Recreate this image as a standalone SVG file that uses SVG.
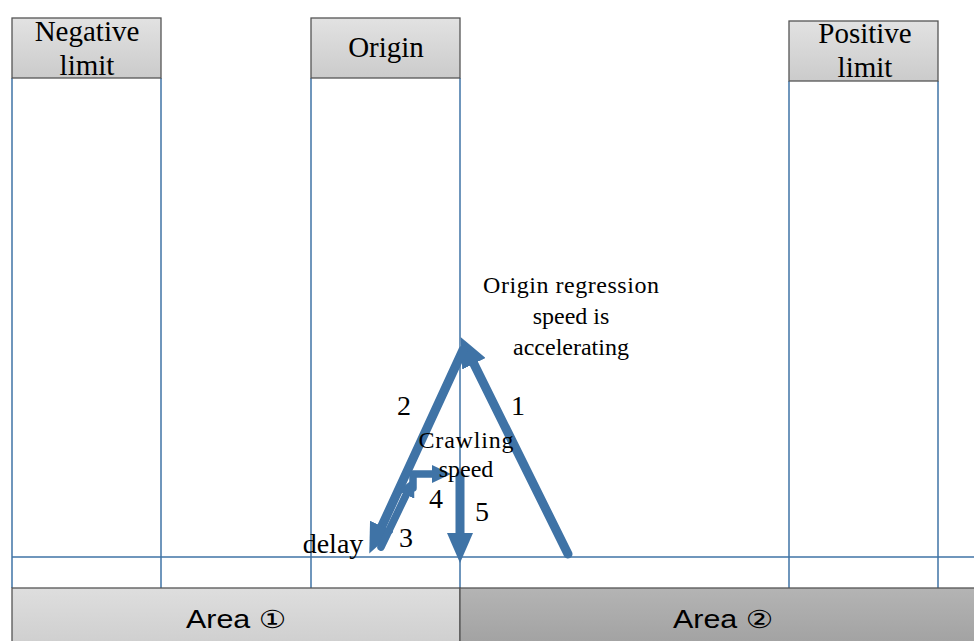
<svg xmlns="http://www.w3.org/2000/svg" width="974" height="641" viewBox="0 0 974 641">
<defs>
<linearGradient id="gHead" x1="0" y1="0" x2="0" y2="1"><stop offset="0" stop-color="#e2e2e2"/><stop offset="1" stop-color="#cbcbcb"/></linearGradient>
<linearGradient id="gA1" x1="0" y1="0" x2="0" y2="1"><stop offset="0" stop-color="#dedede"/><stop offset="1" stop-color="#cfcfcf"/></linearGradient>
<linearGradient id="gA2" x1="0" y1="0" x2="0" y2="1"><stop offset="0" stop-color="#b4b4b4"/><stop offset="1" stop-color="#a2a2a2"/></linearGradient>
<marker id="ah" viewBox="0 0 30 26" refX="2" refY="13" markerWidth="30" markerHeight="26" orient="auto" markerUnits="userSpaceOnUse"><path d="M0,0 L30,13 L0,26 z" fill="#3f73a6"/></marker>
<marker id="ahs" viewBox="0 0 19 18" refX="2" refY="9" markerWidth="19" markerHeight="18" orient="auto" markerUnits="userSpaceOnUse"><path d="M0,0 L19,9 L0,18 z" fill="#3f73a6"/></marker>
</defs>
<style>
.grid{stroke:#3f73a6;stroke-width:1.5;fill:none}
.head{fill:url(#gHead);stroke:#555;stroke-width:1.3}
.serif{font-family:"Liberation Serif","Times New Roman",serif;fill:#000;text-anchor:middle}
.sans{font-family:"Liberation Sans","DejaVu Sans",sans-serif;fill:#000;text-anchor:middle}
.arr{stroke:#3f73a6;stroke-width:9;fill:none;stroke-linecap:round;stroke-linejoin:round}
.arrs{stroke:#3f73a6;stroke-width:7.5;fill:none;stroke-linecap:round;stroke-linejoin:round}
</style>
<rect width="974" height="641" fill="#fff"/>
<g id="grid">
<line class="grid" x1="12" y1="78" x2="12" y2="588"/>
<line class="grid" x1="161" y1="78" x2="161" y2="588"/>
<line class="grid" x1="311" y1="78" x2="311" y2="588"/>
<line class="grid" x1="460" y1="78" x2="460" y2="588"/>
<line class="grid" x1="789" y1="81" x2="789" y2="588"/>
<line class="grid" x1="938" y1="81" x2="938" y2="588"/>
<line class="grid" x1="12" y1="557" x2="974" y2="557"/>
</g>
<g id="neg-limit">
<rect class="head" x="12" y="18" width="149" height="60"/>
<text class="serif" x="87" y="41" font-size="29">Negative</text>
<text class="serif" x="87" y="75" font-size="29">limit</text>
</g>
<g id="origin">
<rect class="head" x="311" y="18" width="149" height="60"/>
<text class="serif" x="386" y="57" font-size="29">Origin</text>
</g>
<g id="pos-limit">
<rect class="head" x="789" y="21" width="149" height="60"/>
<text class="serif" x="865" y="43" font-size="29">Positive</text>
<text class="serif" x="865" y="77" font-size="29">limit</text>
</g>
<g id="area1">
<rect x="12" y="588" width="448" height="56" fill="url(#gA1)" stroke="#555" stroke-width="1.3"/>
<text class="sans" x="236" y="628" font-size="25" textLength="100" lengthAdjust="spacingAndGlyphs">Area ①</text>
</g>
<g id="area2">
<rect x="460" y="588" width="516" height="56" fill="url(#gA2)" stroke="#555" stroke-width="1.3"/>
<text class="sans" x="723" y="628" font-size="25" textLength="100" lengthAdjust="spacingAndGlyphs">Area ②</text>
</g>
<g id="connectors">
<path class="arr" d="M568,554 L473,362" marker-end="url(#ah)"/>
<path class="arr" d="M463,350 L381,528" marker-end="url(#ah)"/>
<path class="arrs" d="M381,547 L407,493" marker-end="url(#ahs)"/>
<path class="arrs" d="M413,488 L413,474 L434,474" marker-end="url(#ahs)"/>
<path class="arr" d="M460,476 L460,535" marker-end="url(#ah)"/>
</g>
<g id="labels">
<text class="serif" x="571" y="293" font-size="24" textLength="176">Origin regression</text>
<text class="serif" x="571" y="324" font-size="24">speed is</text>
<text class="serif" x="571" y="355" font-size="24">accelerating</text>
<text class="serif" x="518" y="415" font-size="28">1</text>
<text class="serif" x="404" y="415" font-size="28">2</text>
<text class="serif" x="466" y="448" font-size="24" textLength="95">Crawling</text>
<text class="serif" x="466" y="477" font-size="24">speed</text>
<text class="serif" x="436" y="508" font-size="28">4</text>
<text class="serif" x="482" y="521" font-size="28">5</text>
<text class="serif" x="406" y="547" font-size="28">3</text>
<text class="serif" x="333" y="553" font-size="28">delay</text>
</g>
</svg>
